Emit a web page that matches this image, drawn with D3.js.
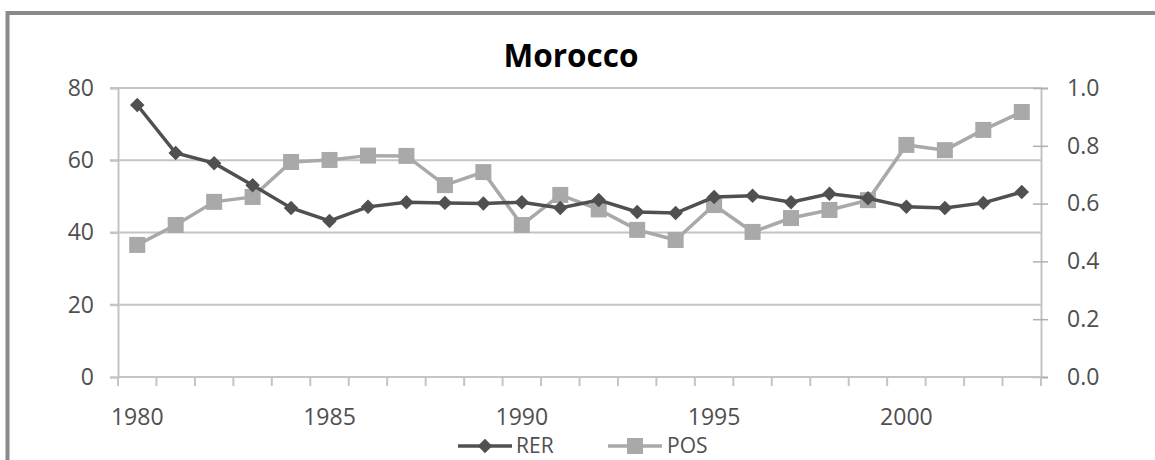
<!DOCTYPE html>
<html>
<head>
<meta charset="utf-8">
<script src="https://cdn.jsdelivr.net/npm/d3@7/dist/d3.min.js"></script>
<style>
  body { margin: 0; background: #fff; }
  svg text { font-family: "Open Sans", sans-serif; }
</style>
</head>
<body>
<svg id="chart" width="1155" height="460"></svg>
<script>
// data
var years = d3.range(1980, 2004)
var rer = [75.3, 62.0, 59.2, 53.1, 46.8, 43.2, 47.1, 48.4, 48.2, 48.0, 48.4, 46.8,
           49.0, 45.7, 45.4, 49.8, 50.2, 48.4, 50.7, 49.5, 47.1, 46.8, 48.2, 51.2]
var pos = [0.457, 0.526, 0.606, 0.623, 0.744, 0.751, 0.766, 0.765, 0.664, 0.709, 0.526, 0.630,
           0.580, 0.509, 0.474, 0.595, 0.502, 0.550, 0.578, 0.612, 0.803, 0.785, 0.855, 0.917]
var leftTicks = [0, 20, 40, 60, 80]
var rightTicks = [0, 0.2, 0.4, 0.6, 0.8, 1.0]
var labelYears = [1980, 1985, 1990, 1995, 2000]

var svg = d3.select('#chart')
var plotL = 118, plotR = 1041, plotT = 88, plotB = 377
var grey = "#4f4f4f"
var fs = "23px"
// diamond = square turned 45deg
var diamond = d3.symbol().type(d3.symbolSquare).size(105)

// frame
svg.append("path")
  .attr("d", "M7.5,460 V13 H1155")
  .attr("fill", "none")
  .attr("stroke", "#8a8a8a")
  .attr("stroke-width", 4)

svg.append("text")
  .attr("x", 571).attr("y", 67)
  .attr("text-anchor", "middle")
  .style("font-size", "31.5px").style("font-weight", "bold")
  .attr("fill", "#000")
  .text("Morocco")

var x = d3.scaleBand().domain(years).range([plotL, plotR]).padding(0)
var y = d3.scaleLinear().domain([0, 80]).range([plotB, plotT])
var y2 = d3.scaleLinear().domain([0, 1]).range([plotB, plotT])

// grid
svg.append("g").selectAll("line")
  .data(leftTicks.slice(1))
  .enter().append("line")
  .attr("x1", plotL - 8).attr("x2", plotR)
  .attr("y1", function(d){ return y(d) }).attr("y2", function(d){ return y(d) })
  .attr("stroke", "#c4c4c4").attr("stroke-width", 2)

// left axis
var ay = svg.append("g").attr("transform", "translate(" + plotL + ",0)")
  .call(d3.axisLeft(y).tickValues(leftTicks).tickSize(8).tickPadding(16))
ay.select(".domain").attr("stroke", "#c4c4c4").attr("stroke-width", 2)
ay.selectAll(".tick line").attr("stroke", "#c4c4c4").attr("stroke-width", 2)
ay.selectAll("text").attr("fill", grey).style("font-size", fs)

// right axis
var ay2 = svg.append("g").attr("transform", "translate(" + plotR + ",0)")
  .call(d3.axisRight(y2).tickValues(rightTicks).tickSize(7).tickPadding(19)
    .tickFormat(d3.format(".1f")))
ay2.select(".domain").attr("stroke", "#c4c4c4").attr("stroke-width", 2)
ay2.selectAll(".tick line").attr("x1", -8).attr("stroke", "#b0b0b0").attr("stroke-width", 1.5)
ay2.selectAll("text").attr("fill", grey).style("font-size", fs)

// x axis
svg.append("line")
  .attr("x1", plotL).attr("x2", plotR).attr("y1", plotB).attr("y2", plotB)
  .attr("stroke", "#c4c4c4").attr("stroke-width", 2)
svg.append("g").selectAll("line")
  .data(years.concat([2004]))
  .enter().append("line")
  .attr("x1", function(d){ return d < 2004 ? x(d) : plotR })
  .attr("x2", function(d){ return d < 2004 ? x(d) : plotR })
  .attr("y1", plotB).attr("y2", plotB + 9)
  .attr("stroke", "#c4c4c4").attr("stroke-width", 2)

var ax = svg.append("g").attr("transform", "translate(0," + plotB + ")")
  .call(d3.axisBottom(x).tickValues(labelYears).tickSize(0).tickPadding(32))
ax.select(".domain").remove()
ax.selectAll("text").attr("fill", grey).style("font-size", fs)

function cx(d, i){ return x(years[i]) + x.bandwidth() / 2 }

// POS series (right axis)
svg.append("path")
  .datum(pos)
  .attr("d", d3.line().x(cx).y(function(d){ return y2(d) }))
  .attr("fill", "none").attr("stroke", "#a9a9a9").attr("stroke-width", 3.5)
svg.append("g").selectAll("rect")
  .data(pos)
  .enter().append("rect")
  .attr("x", function(d, i){ return cx(d, i) - 8 })
  .attr("y", function(d){ return y2(d) - 8 })
  .attr("width", 16).attr("height", 16)
  .attr("fill", "#a9a9a9")

// RER series (left axis)
svg.append("path")
  .datum(rer)
  .attr("d", d3.line().x(cx).y(function(d){ return y(d) }))
  .attr("fill", "none").attr("stroke", "#505050").attr("stroke-width", 3.5)
svg.append("g").selectAll("path")
  .data(rer)
  .enter().append("path")
  .attr("d", diamond)
  .attr("transform", function(d, i){ return "translate(" + cx(d, i) + "," + y(d) + ") rotate(45)" })
  .attr("fill", "#505050")

// legend
var lg = svg.append("g").attr("transform", "translate(0,446)")
lg.append("line").attr("x1", 458).attr("x2", 512).attr("stroke", "#505050").attr("stroke-width", 3.5)
lg.append("path").attr("d", diamond)
  .attr("transform", "translate(485,0) rotate(45)").attr("fill", "#505050")
lg.append("text").attr("x", 516).attr("dy", "0.35em").attr("fill", grey)
  .style("font-size", "21px").text("RER")
lg.append("line").attr("x1", 608).attr("x2", 662).attr("stroke", "#a9a9a9").attr("stroke-width", 3.5)
lg.append("rect").attr("x", 627).attr("y", -8).attr("width", 16).attr("height", 16).attr("fill", "#a9a9a9")
lg.append("text").attr("x", 667).attr("dy", "0.35em").attr("fill", grey)
  .style("font-size", "21px").text("POS")
</script>
</body>
</html>
